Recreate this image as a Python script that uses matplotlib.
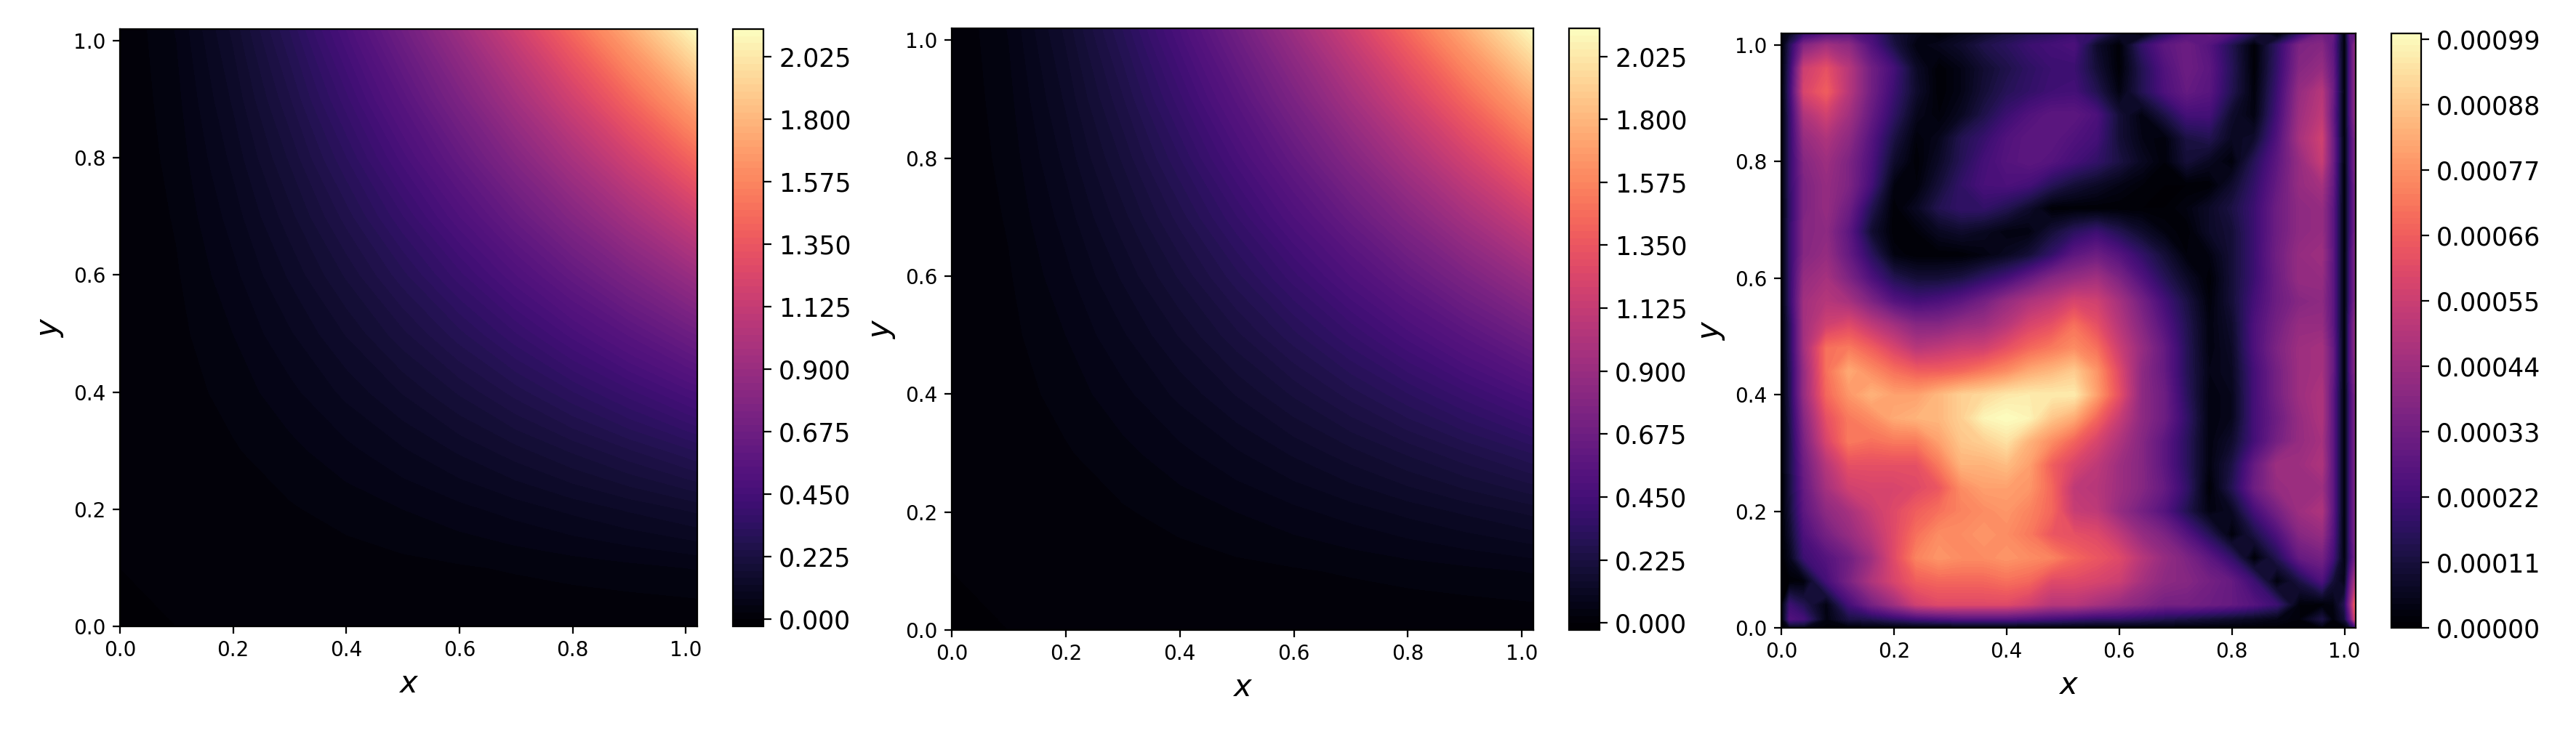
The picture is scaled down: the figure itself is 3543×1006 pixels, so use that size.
import numpy as np
import matplotlib
matplotlib.use("Agg")
import matplotlib.pyplot as plt

# ---- data ----
grid_smooth = [0, .1, .2, .3, .4, .5, .6, .7, .8, .9, 1.0, 1.02]
u_exact = [
 [0]*12,
 [0, .001, .004, .007, .012, .017, .022, .028, .035, .042, .050, .052],
 [0, .004, .012, .022, .035, .050, .067, .086, .107, .129, .152, .157],
 [0, .007, .022, .042, .067, .096, .129, .165, .204, .246, .291, .301],
 [0, .012, .035, .067, .107, .152, .204, .261, .323, .390, .462, .476],
 [0, .017, .050, .096, .152, .218, .291, .373, .462, .557, .660, .681],
 [0, .022, .067, .129, .204, .291, .390, .499, .618, .746, .883, .912],
 [0, .028, .086, .165, .261, .373, .499, .639, .791, .955, 1.130, 1.167],
 [0, .035, .107, .204, .323, .462, .618, .791, .979, 1.183, 1.400, 1.445],
 [0, .042, .129, .246, .390, .557, .746, .955, 1.183, 1.428, 1.690, 1.744],
 [0, .050, .152, .291, .462, .660, .883, 1.130, 1.400, 1.690, 2.000, 2.064],
 [0, .052, .157, .301, .476, .681, .912, 1.167, 1.445, 1.744, 2.064, 2.120],
]
u_pred = u_exact

err_x = [0, .015, .04, .08, .12, .16, .20, .24, .28, .32, .36, .40, .44, .48, .52, .56,
         .60, .64, .68, .72, .76, .80, .84, .88, .92, .96, .98, 1.0, 1.01, 1.02]
err_y = [1.02, 1.0, .96, .92, .88, .84, .80, .76, .72, .68, .64, .60, .56, .52, .48, .44,
         .40, .36, .32, .28, .24, .20, .16, .12, .08, .04, .015, 0]
# absolute error in units of 1e-5, rows from top to bottom
err_1e5 = [
 [3,6,18,25,28,22,10,5,1,5,8,12,15,17,20,18,8,1,15,25,30,25,14,1,18,33,30,1,28,30],
 [0,15,37,45,40,25,12,3,5,8,13,16,20,22,24,8,1,18,28,32,26,14,1,17,36,38,28,1,25,42],
 [0,18,55,62,50,33,22,7,1,4,9,13,17,20,20,10,1,14,25,32,28,15,1,18,38,42,30,1,25,42],
 [0,20,58,66,50,33,20,8,1,4,10,15,18,21,22,14,3,14,24,30,27,14,2,20,42,50,32,1,25,42],
 [0,18,48,56,45,30,17,5,2,6,13,20,25,28,28,24,10,3,12,22,22,8,3,22,44,52,30,1,25,42],
 [0,18,42,48,40,26,12,2,5,14,19,25,28,28,25,22,10,4,2,12,14,6,8,25,46,56,32,1,22,38],
 [0,18,38,44,36,24,8,1,7,15,22,26,28,26,22,18,12,6,2,10,6,2,15,28,42,54,32,1,22,38],
 [0,18,36,42,36,22,3,2,10,18,23,24,22,15,10,7,4,2,1,1,1,8,18,30,42,46,30,1,20,36],
 [0,17,36,42,32,14,1,6,14,18,18,14,8,1,1,1,1,1,1,3,7,12,20,32,40,42,28,1,20,36],
 [0,18,38,40,28,9,1,2,6,8,6,3,3,10,16,20,14,8,3,1,7,10,20,32,40,42,28,1,20,36],
 [0,18,38,42,30,16,3,1,1,1,3,6,10,18,28,32,26,18,10,2,3,10,20,33,42,44,28,1,22,38],
 [0,18,42,46,36,24,14,10,10,12,17,22,30,38,42,45,36,25,15,7,1,10,20,32,42,42,28,1,22,38],
 [0,18,45,50,46,36,26,22,24,28,34,42,48,52,58,56,46,34,22,12,2,10,22,32,38,40,28,1,22,38],
 [0,15,45,56,60,52,45,38,38,42,44,50,58,62,70,62,50,38,26,14,3,8,24,34,42,42,28,1,25,42],
 [0,15,45,70,72,66,58,50,52,55,56,62,68,72,76,70,55,42,30,15,3,7,24,36,44,46,30,1,25,42],
 [0,14,42,70,82,76,70,66,66,68,72,76,82,85,89,78,60,40,30,15,4,6,22,34,44,46,30,1,25,40],
 [0,14,42,68,78,84,80,80,85,90,92,95,96,96,96,80,62,40,32,16,3,5,22,34,44,48,28,1,22,38],
 [0,13,38,62,72,76,82,84,85,90,98,100,98,88,82,68,54,40,32,18,3,5,22,32,42,48,28,1,22,38],
 [0,12,35,58,72,70,72,72,80,88,90,94,84,76,67,58,48,38,28,16,3,8,22,34,42,46,28,1,22,38],
 [0,12,32,50,62,62,62,62,72,84,84,86,80,66,58,52,44,38,28,16,3,12,30,44,44,48,28,1,22,38],
 [0,11,30,46,56,58,58,60,64,76,80,80,78,68,52,50,44,38,30,18,1,14,32,42,44,44,28,1,22,38],
 [0,10,28,40,46,54,60,66,70,74,76,78,74,68,54,52,42,34,26,14,3,6,22,34,44,48,28,1,22,38],
 [0,8,24,34,42,50,60,70,76,76,78,76,72,64,62,60,52,42,36,26,15,2,12,24,38,42,26,1,22,38],
 [0,5,20,26,33,44,60,74,78,76,76,78,76,74,68,64,60,50,42,36,28,18,1,14,30,34,22,2,20,36],
 [1,1,2,22,35,48,58,66,68,68,68,70,68,60,60,58,55,46,40,38,34,30,20,2,12,24,10,4,30,50],
 [1,20,14,3,22,34,44,56,60,60,60,60,56,50,50,46,42,38,34,34,32,30,26,20,2,1,3,14,40,70],
 [0,25,22,3,12,14,18,22,24,26,26,26,24,22,20,18,18,16,14,12,10,8,6,4,2,12,2,10,30,62],
 [0,5,5,1,1,1,1,1,1,1,1,1,1,1,1,1,1,1,1,1,1,1,1,1,1,2,1,1,8,20],
]

axis_ticks = [0.0, 0.2, 0.4, 0.6, 0.8, 1.0]
cbar_ticks_u = [0.0, 0.225, 0.45, 0.675, 0.9, 1.125, 1.35, 1.575, 1.8, 2.025]
cbar_ticks_err = [0.0, 0.00011, 0.00022, 0.00033, 0.00044, 0.00055, 0.00066, 0.00077, 0.00088, 0.00099]
levels_u = np.arange(-0.025, 2.1251, 0.025)
levels_err = np.arange(0, 0.0010001, 0.00001)

W, H = 3543, 1006
DPI = 300
fig = plt.figure(figsize=(W / DPI, H / DPI), dpi=DPI)


def add_px(x0, x1, y0, y1):
    return fig.add_axes([x0 / W, 1 - y1 / H, (x1 - x0) / W, (y1 - y0) / H])


LW = 0.54
panels = [
    (grid_smooth, grid_smooth, np.array(u_exact), levels_u, cbar_ticks_u, "%.3f",
     (165, 959, 40, 862), (1008, 1050)),
    (grid_smooth, grid_smooth, np.array(u_pred), levels_u, cbar_ticks_u, "%.3f",
     (1309, 2109, 39, 867), (2158, 2200)),
    (err_x, err_y, np.array(err_1e5) * 1e-5, levels_err, cbar_ticks_err, "%.5f",
     (2450, 3240, 46, 864), (3289, 3330)),
]

for xs, ys, zs, lev, cticks, fmt, box, cb in panels:
    ax = add_px(*box)
    cs = ax.contourf(xs, ys, zs, levels=lev, cmap="magma")
    ax.set_xlim(0, 1.02)
    ax.set_ylim(0, 1.02)
    ax.set_xticks(axis_ticks)
    ax.set_yticks(axis_ticks)
    ax.tick_params(labelsize=6.7, length=2.35, width=LW, pad=2.3)
    ax.set_xlabel("$x$", fontsize=10, labelpad=2.6)
    ax.set_ylabel("$y$", fontsize=10, labelpad=2.6)
    for s in ax.spines.values():
        s.set_linewidth(LW)
    cax = add_px(cb[0], cb[1], box[2], box[3])
    cbar = fig.colorbar(cs, cax=cax, ticks=cticks, format=fmt)
    cbar.ax.tick_params(labelsize=8.35, length=2.75, width=LW, pad=2.3)
    cbar.outline.set_linewidth(LW)

fig.savefig("out.png", dpi=DPI, facecolor="white")
